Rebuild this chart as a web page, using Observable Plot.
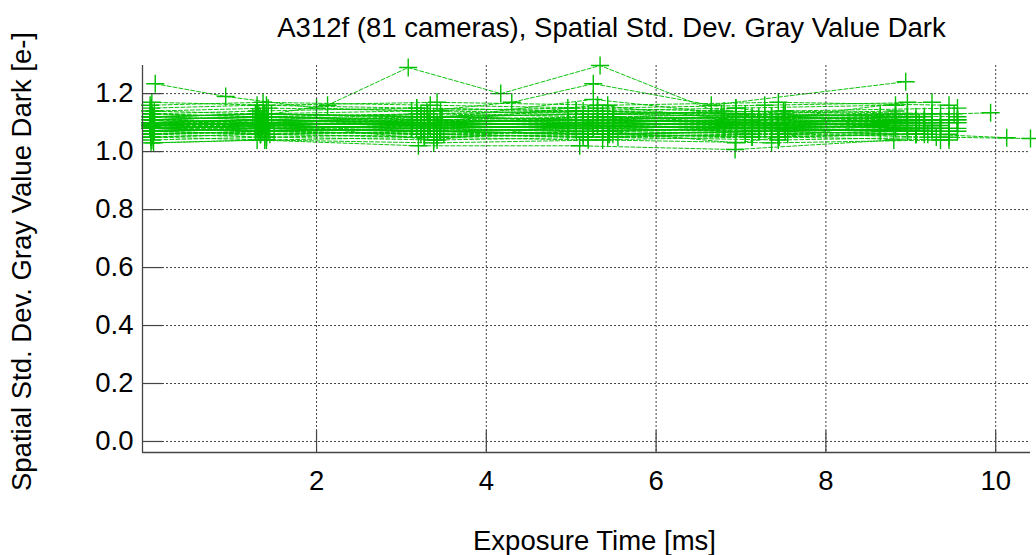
<!DOCTYPE html>
<html><head><meta charset="utf-8">
<script src="https://cdn.jsdelivr.net/npm/d3@7"></script>
<script src="https://cdn.jsdelivr.net/npm/@observablehq/plot@0.6"></script>
<style>body{margin:0;background:#fff;}</style>
</head><body><div id="chart"></div>
<script>
// ---- data ----
const titleText = "A312f (81 cameras), Spatial Std. Dev. Gray Value Dark";
const xLabel = "Exposure Time [ms]";
const yLabel = "Spatial Std. Dev. Gray Value Dark [e-]";
const xTicks = [2, 4, 6, 8, 10];
const yTicks = [0.0, 0.2, 0.4, 0.6, 0.8, 1.0, 1.2];
const xDomain = [-0.05, 10.41];
const yDomain = [-0.038, 1.297];

// exposure times (ms) shared by groups of cameras
const exposureGrids = [
  [0.04, 1.28, 3.12, 4.96, 6.80, 8.64],
  [0.05, 1.30, 3.18, 5.06, 6.94, 8.82],
  [0.06, 1.32, 3.23, 5.14, 7.05, 8.96],
  [0.05, 1.34, 3.27, 5.20, 7.13, 9.06],
  [0.07, 1.36, 3.31, 5.26, 7.21, 9.16],
  [0.04, 1.37, 3.34, 5.31, 7.28, 9.25],
  [0.08, 1.39, 3.38, 5.37, 7.36, 9.35],
  [0.06, 1.41, 3.42, 5.43, 7.44, 9.45],
  [0.09, 1.43, 3.46, 5.49, 7.52, 9.55]
];

// grid used by each regular camera
const cameraGrid = [
  0,1,2,3,4,5,6,7,8,0,1,2,3,4,5,6,7,8,0,1,2,3,4,5,6,
  7,8,0,1,2,3,4,5,6,7,8,0,1,2,3,4,5,6,7,8,0,1,2,3,4,
  5,6,7,8,0,1,2,3,4,5,6,7,8,0,1,2,3,4,5,6,7,8,0,1,2
];

// spatial std. dev. values [e-] of each regular camera
const cameraValues = [
  [1.09,1.10,1.09,1.08,1.09,1.10],[1.10,1.11,1.10,1.11,1.12,1.11],[1.08,1.07,1.08,1.09,1.08,1.07],
  [1.11,1.12,1.11,1.10,1.11,1.12],[1.07,1.08,1.07,1.08,1.07,1.06],[1.09,1.09,1.10,1.12,1.10,1.09],
  [1.12,1.13,1.12,1.13,1.12,1.11],[1.06,1.05,1.06,1.07,1.06,1.06],[1.10,1.09,1.11,1.10,1.09,1.10],
  [1.08,1.09,1.08,1.07,1.08,1.09],[1.13,1.14,1.15,1.14,1.13,1.14],[1.09,1.08,1.09,1.10,1.11,1.10],
  [1.05,1.06,1.05,1.04,1.05,1.06],[1.11,1.10,1.11,1.18,1.12,1.11],[1.10,1.11,1.09,1.10,1.11,1.10],
  [1.08,1.08,1.07,1.08,1.09,1.08],[1.07,1.06,1.07,1.06,1.07,1.08],[1.14,1.15,1.14,1.13,1.14,1.15],
  [1.09,1.11,1.10,1.09,1.08,1.09],[1.10,1.10,1.12,1.11,1.10,1.11],[1.06,1.07,1.06,1.05,1.06,1.07],
  [1.12,1.11,1.12,1.13,1.12,1.11],[1.08,1.07,1.09,1.08,1.07,1.08],[1.09,1.10,1.09,1.10,1.09,1.08],
  [1.11,1.12,1.10,1.11,1.12,1.13],[1.04,1.05,1.04,1.05,1.04,1.05],[1.10,1.11,1.10,1.09,1.10,1.11],
  [1.09,1.08,1.09,1.10,1.09,1.10],[1.15,1.16,1.15,1.14,1.15,1.16],[1.07,1.08,1.07,1.06,1.07,1.08],
  [1.08,1.09,1.08,1.09,1.08,1.07],[1.12,1.11,1.13,1.12,1.11,1.12],[1.10,1.09,1.10,1.16,1.10,1.09],
  [1.09,1.10,1.09,1.08,1.09,1.10],[1.06,1.07,1.06,1.07,1.08,1.07],[1.11,1.10,1.12,1.11,1.10,1.11],
  [1.08,1.07,1.08,1.09,1.08,1.07],[1.13,1.12,1.13,1.14,1.13,1.12],[1.10,1.11,1.10,1.09,1.10,1.11],
  [1.07,1.08,1.07,1.06,1.07,1.08],[1.09,1.10,1.09,1.10,1.09,1.10],[1.16,1.17,1.16,1.15,1.16,1.17],
  [1.08,1.09,1.08,1.07,1.08,1.09],[1.05,1.04,1.05,1.06,1.05,1.04],[1.11,1.12,1.11,1.12,1.13,1.12],
  [1.10,1.09,1.10,1.11,1.10,1.09],[1.09,1.08,1.09,1.10,1.15,1.08],[1.12,1.13,1.12,1.11,1.12,1.13],
  [1.07,1.06,1.07,1.08,1.07,1.06],[1.08,1.09,1.10,1.09,1.08,1.09],[1.10,1.11,1.10,1.09,1.10,1.11],
  [1.03,1.04,1.03,1.04,1.03,1.04],[1.09,1.10,1.09,1.08,1.09,1.10],[1.11,1.10,1.11,1.12,1.11,1.10],
  [1.14,1.13,1.14,1.15,1.14,1.13],[1.08,1.09,1.08,1.07,1.08,1.09],[1.10,1.09,1.10,1.11,1.10,1.17],
  [1.06,1.07,1.06,1.05,1.06,1.07],[1.09,1.08,1.09,1.10,1.09,1.08],[1.12,1.13,1.12,1.14,1.12,1.13],
  [1.07,1.08,1.07,1.06,1.07,1.08],[1.10,1.09,1.10,1.11,1.10,1.11],[1.08,1.07,1.08,1.09,1.08,1.07],
  [1.11,1.12,1.11,1.10,1.11,1.12],[1.09,1.10,1.09,1.08,1.03,1.10],[1.13,1.12,1.13,1.14,1.13,1.12],
  [1.05,1.06,1.05,1.06,1.05,1.06],[1.10,1.11,1.10,1.09,1.10,1.11],[1.08,1.07,1.08,1.09,1.08,1.07],
  [1.09,1.10,1.04,1.10,1.09,1.08],[1.17,1.16,1.17,1.16,1.17,1.16],[1.07,1.08,1.07,1.06,1.07,1.08],
  [1.10,1.09,1.10,1.11,1.10,1.09],[1.12,1.13,1.12,1.11,1.12,1.13],[1.08,1.09,1.08,1.09,1.08,1.09]
];

// cameras with their own exposure series
const specialX = [
  [0.08, 1.25, 2.13, 3.08, 4.17, 5.34, 6.77, 9.10],
  [0.10, 0.93, 2.00, 3.30, 4.30, 5.26, 6.65, 8.94],
  [0.05, 1.30, 3.20, 5.10, 6.93, 8.80],
  [0.06, 1.50, 3.50, 5.55, 7.55, 9.30, 10.41],
  [0.07, 1.47, 3.48, 5.50, 7.50, 9.51, 9.94],
  [0.05, 1.45, 3.45, 5.45, 7.45, 9.20, 10.13]
];
const specialY = [
  [1.11, 1.12, 1.16, 1.29, 1.20, 1.297, 1.13, 1.10],
  [1.234, 1.19, 1.15, 1.14, 1.17, 1.234, 1.16, 1.241],
  [1.03, 1.04, 1.02, 1.02, 1.007, 1.04],
  [1.06, 1.07, 1.06, 1.05, 1.06, 1.05, 1.045],
  [1.12, 1.13, 1.12, 1.13, 1.14, 1.13, 1.134],
  [1.07, 1.06, 1.07, 1.06, 1.05, 1.06, 1.048]
];

// ---- build table ----
const points = [];
cameraValues.forEach((vals, c) => {
  const xs = exposureGrids[cameraGrid[c]];
  vals.forEach((v, i) => points.push({cam: c, x: xs[i], y: v}));
});
specialX.forEach((xs, s) => {
  xs.forEach((xv, i) => points.push({cam: 100 + s, x: xv, y: specialY[s][i]}));
});

const green = "#00c000";
const plusSymbol = {draw(ctx) { const r = 9; ctx.moveTo(-r, 0); ctx.lineTo(r, 0); ctx.moveTo(0, -r); ctx.lineTo(0, r); }};
const yTickSymbol = {draw(ctx) { ctx.moveTo(0, 0); ctx.lineTo(20, 0); }};
const xTickSymbol = {draw(ctx) { ctx.moveTo(0, 0); ctx.lineTo(0, -22); }};

const chart = Plot.plot({
  width: 1036, height: 555,
  marginLeft: 142, marginRight: 6, marginTop: 65, marginBottom: 103,
  style: {fontFamily: "'Liberation Sans', Arial, Helvetica, sans-serif", fontSize: "27.5px", color: "black", background: "white"},
  x: {domain: xDomain, ticks: xTicks, tickSize: 0, tickPadding: 18, tickFormat: d => String(d), label: null},
  y: {domain: yDomain, ticks: yTicks, tickSize: 0, tickPadding: 9, tickFormat: d3.format(".1f"), label: null},
  marks: [
    Plot.line(points, {x: "x", y: "y", z: "cam", stroke: green, strokeWidth: 1, strokeDasharray: "4,2", strokeOpacity: 0.95}),
    Plot.dot(points, {x: "x", y: "y", symbol: plusSymbol, r: 5, fill: "none", stroke: green, strokeWidth: 1.4}),
    Plot.ruleY(yTicks, {y: d => d, stroke: "#444", strokeWidth: 1, strokeDasharray: "2,2"}),
    Plot.ruleX(xTicks, {x: d => d, stroke: "#444", strokeWidth: 1, strokeDasharray: "2,2"}),
    Plot.dot(yTicks, {y: d => d, frameAnchor: "left", symbol: yTickSymbol, r: 5, fill: "none", stroke: "#444", strokeWidth: 1.2}),
    Plot.dot(xTicks, {x: d => d, frameAnchor: "bottom", symbol: xTickSymbol, r: 5, fill: "none", stroke: "#444", strokeWidth: 1.2}),
    Plot.ruleX([xDomain[0]], {stroke: "#444", strokeWidth: 1.3}),
    Plot.ruleY([yDomain[0]], {stroke: "#444", strokeWidth: 1.3}),
    Plot.text([titleText], {frameAnchor: "top", dx: 25, dy: -29, lineAnchor: "bottom", textAnchor: "middle", fontSize: 27.5, fill: "black"}),
    Plot.text([xLabel], {frameAnchor: "bottom", dx: 8, dy: 97, lineAnchor: "bottom", textAnchor: "middle", fontSize: 27.5, fill: "black"}),
    Plot.text([yLabel], {frameAnchor: "left", dx: -120, dy: 2.5, rotate: -90, lineAnchor: "middle", textAnchor: "middle", fontSize: 27.5, fill: "black"})
  ]
});
document.getElementById("chart").appendChild(chart);
</script>
</body></html>
